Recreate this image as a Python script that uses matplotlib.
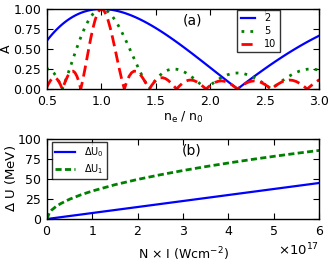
"""Two-panel figure: interference amplitude vs density, and energy shift vs intensity."""

import matplotlib

matplotlib.use("Agg")
import matplotlib.pyplot as plt
from matplotlib.font_manager import FontProperties
from matplotlib.ticker import ScalarFormatter

# ---- panel (a): amplitude A vs n_e / n_0 ----
ne_ratio = [
    0.4900, 0.5041, 0.5184, 0.5329, 0.5476, 0.5625, 0.5776, 0.5929, 0.6084, 0.6241,
    0.6400, 0.6561, 0.6724, 0.6889, 0.7056, 0.7225, 0.7396, 0.7569, 0.7744, 0.7921,
    0.8100, 0.8281, 0.8464, 0.8649, 0.8836, 0.9025, 0.9216, 0.9409, 0.9604, 0.9801,
    1.0000,
    1.0201, 1.0404, 1.0609, 1.0816, 1.1025, 1.1236, 1.1449, 1.1664, 1.1881, 1.2100,
    1.2321, 1.2544, 1.2769, 1.2996, 1.3225, 1.3456, 1.3689, 1.3924, 1.4161, 1.4400,
    1.4641, 1.4884, 1.5129, 1.5376, 1.5625, 1.5876, 1.6129, 1.6384, 1.6641, 1.6900,
    1.7161, 1.7424, 1.7689, 1.7956, 1.8225, 1.8496, 1.8769, 1.9044, 1.9321, 1.9600,
    1.9881, 2.0164, 2.0449, 2.0736, 2.1025, 2.1316, 2.1609, 2.1904, 2.2201, 2.2500,
    2.2801, 2.3104, 2.3409, 2.3716, 2.4025, 2.4336, 2.4649, 2.4964, 2.5281, 2.5600,
    2.5921, 2.6244, 2.6569, 2.6896, 2.7225, 2.7556, 2.7889, 2.8224, 2.8561, 2.8900,
    2.9241, 2.9584, 2.9929, 3.0276,
]

amp_2 = [
    0.5878, 0.6129, 0.6374, 0.6613, 0.6846, 0.7071, 0.7290, 0.7501, 0.7705, 0.7902,
    0.8090, 0.8271, 0.8443, 0.8607, 0.8763, 0.8910, 0.9048, 0.9178, 0.9298, 0.9409,
    0.9511, 0.9603, 0.9686, 0.9759, 0.9823, 0.9877, 0.9921, 0.9956, 0.9980, 0.9995,
    1.0,
    0.9995, 0.9980, 0.9956, 0.9921, 0.9877, 0.9823, 0.9759, 0.9686, 0.9603, 0.9511,
    0.9409, 0.9298, 0.9178, 0.9048, 0.8910, 0.8763, 0.8607, 0.8443, 0.8271, 0.8090,
    0.7902, 0.7705, 0.7501, 0.7290, 0.7071, 0.6846, 0.6613, 0.6374, 0.6129, 0.5878,
    0.5621, 0.5358, 0.5090, 0.4818, 0.4540, 0.4258, 0.3971, 0.3681, 0.3387, 0.3090,
    0.2790, 0.2487, 0.2181, 0.1874, 0.1564, 0.1253, 0.0941, 0.0628, 0.0314, 0.0,
    0.0314, 0.0628, 0.0941, 0.1253, 0.1564, 0.1874, 0.2181, 0.2487, 0.2790, 0.3090,
    0.3387, 0.3681, 0.3971, 0.4258, 0.4540, 0.4818, 0.5090, 0.5358, 0.5621, 0.5878,
    0.6129, 0.6374, 0.6613, 0.6846,
]

amp_5 = [
    0.2472, 0.2500, 0.2469, 0.2376, 0.2220, 0.2000, 0.1717, 0.1373, 0.0970, 0.0510,
    0.0, 0.0557, 0.1153, 0.1784, 0.2440, 0.3115, 0.3800, 0.4487, 0.5167, 0.5832,
    0.6472, 0.7080, 0.7649, 0.8169, 0.8635, 0.9041, 0.9380, 0.9648, 0.9843, 0.9961,
    1.0,
    0.9961, 0.9843, 0.9648, 0.9380, 0.9041, 0.8635, 0.8169, 0.7649, 0.7080, 0.6472,
    0.5832, 0.5167, 0.4487, 0.3800, 0.3115, 0.2440, 0.1784, 0.1153, 0.0557, 0.0,
    0.0510, 0.0970, 0.1373, 0.1717, 0.2000, 0.2220, 0.2376, 0.2469, 0.2500, 0.2472,
    0.2388, 0.2253, 0.2070, 0.1846, 0.1587, 0.1299, 0.0989, 0.0665, 0.0333, 0.0,
    0.0326, 0.0638, 0.0930, 0.1197, 0.1432, 0.1631, 0.1790, 0.1906, 0.1976, 0.2000,
    0.1976, 0.1906, 0.1790, 0.1631, 0.1432, 0.1197, 0.0930, 0.0638, 0.0326, 0.0,
    0.0333, 0.0665, 0.0989, 0.1299, 0.1587, 0.1846, 0.2070, 0.2253, 0.2388, 0.2472,
    0.2500, 0.2469, 0.2376, 0.2220,
]

amp_10 = [
    0.0, 0.0391, 0.0763, 0.1079, 0.1305, 0.1414, 0.1389, 0.1223, 0.0922, 0.0504,
    0.0, 0.0550, 0.1097, 0.1589, 0.1974, 0.2203, 0.2234, 0.2037, 0.1597, 0.0912,
    0.0, 0.1108, 0.2364, 0.3709, 0.5076, 0.6393, 0.7588, 0.8597, 0.9361, 0.9838,
    1.0,
    0.9838, 0.9361, 0.8597, 0.7588, 0.6393, 0.5076, 0.3709, 0.2364, 0.1108, 0.0,
    0.0912, 0.1597, 0.2037, 0.2234, 0.2203, 0.1974, 0.1589, 0.1097, 0.0550, 0.0,
    0.0504, 0.0922, 0.1223, 0.1389, 0.1414, 0.1305, 0.1079, 0.0763, 0.0391, 0.0,
    0.0374, 0.0696, 0.0940, 0.1085, 0.1122, 0.1051, 0.0882, 0.0632, 0.0328, 0.0,
    0.0322, 0.0607, 0.0829, 0.0968, 0.1012, 0.0959, 0.0813, 0.0589, 0.0309, 0.0,
    0.0309, 0.0589, 0.0813, 0.0959, 0.1012, 0.0968, 0.0829, 0.0607, 0.0322, 0.0,
    0.0328, 0.0632, 0.0882, 0.1051, 0.1122, 0.1085, 0.0940, 0.0696, 0.0374, 0.0,
    0.0391, 0.0763, 0.1079, 0.1305,
]

# ---- panel (b): energy shift vs N x I (in units of 1e17 W/cm^2) ----
intensity_e17 = [0, 0.05, 0.1, 0.2, 0.3, 0.5, 0.75, 1.0, 1.5, 2.0, 2.5, 3.0, 3.5,
                 4.0, 4.5, 5.0, 5.5, 6.0]
du0 = [0, 0.38, 0.75, 1.5, 2.25, 3.75, 5.6, 7.5, 11.25, 15.0, 18.75, 22.5, 26.25,
       30.0, 33.75, 37.5, 41.25, 45.0]
du1 = [0, 7.8, 11.1, 15.7, 19.2, 24.8, 30.3, 35.0, 42.9, 49.5, 55.3, 60.6, 65.5,
       70.0, 74.3, 78.3, 82.1, 85.7]

plt.rcParams["font.family"] = ["DejaVu Sans"]
plt.rcParams["mathtext.default"] = "regular"

fig = plt.figure(figsize=(3.29, 2.71), dpi=100)
ax1 = fig.add_axes([0.143, 0.6716, 0.827, 0.2952])
ax2 = fig.add_axes([0.143, 0.1919, 0.827, 0.2952])

ax1.plot(ne_ratio, amp_2, color="b", lw=1.6, label="2")
ax1.plot(ne_ratio, amp_5, color="g", lw=2.0, dashes=(1, 2.2), label="5")
ax1.plot(ne_ratio, amp_10, color="r", lw=2.0, dashes=(4, 2), label="10")
ax1.set_xlim(0.5, 3.0)
ax1.set_ylim(0, 1.0)
ax1.set_xticks([0.5, 1.0, 1.5, 2.0, 2.5, 3.0])
ax1.set_yticks([0, 0.25, 0.5, 0.75, 1.0])
ax1.set_yticklabels(["0.00", "0.25", "0.50", "0.75", "1.00"])
ax1.set_xlabel("n$_e$ / n$_0$", fontsize=9, labelpad=2)
ax1.set_ylabel("A", fontsize=9)
ax1.yaxis.set_label_coords(-0.126, 0.5)
ax1.text(0.533, 0.85, "(a)", transform=ax1.transAxes, ha="center", va="center",
         fontsize=10)
leg1 = ax1.legend(loc="upper left", bbox_to_anchor=(0.699, 0.99), borderaxespad=0,
                  fontsize=7, fancybox=False, handlelength=1.5, labelspacing=0.3,
                  borderpad=0.35, handletextpad=0.9)
leg1.get_frame().set_edgecolor("k")
leg1.get_frame().set_linewidth(1.0)

intensity = [v * 1e17 for v in intensity_e17]
ax2.plot(intensity, du0, color="b", lw=1.6, label=r"$\Delta U_0$")
ax2.plot(intensity, du1, color="g", lw=2.0, dashes=(2.2, 1.2), label=r"$\Delta U_1$")
ax2.set_xlim(0, 6e17)
ax2.set_ylim(0, 100)
ax2.set_yticks([0, 25, 50, 75, 100])
fmt = ScalarFormatter(useMathText=True)
ax2.xaxis.set_major_formatter(fmt)
ax2.set_xlabel(r"N $\times$ I (Wcm$^{-2}$)", fontsize=9, labelpad=6)
ax2.set_ylabel(r"$\Delta$ U (MeV)", fontsize=9.5)
ax2.yaxis.set_label_coords(-0.105, 0.5)
ax2.text(0.533, 0.85, "(b)", transform=ax2.transAxes, ha="center", va="center",
         fontsize=10)
leg2 = ax2.legend(loc="upper left", bbox_to_anchor=(0.018, 0.9625), borderaxespad=0,
                  prop=FontProperties(size=7, math_fontfamily="cm"), fancybox=False,
                  handlelength=2.0, labelspacing=0.3, borderpad=0.35,
                  handletextpad=0.9)
leg2.get_frame().set_edgecolor("k")
leg2.get_frame().set_linewidth(1.0)

for ax in (ax1, ax2):
    ax.tick_params(direction="in", top=True, right=True, length=4, width=0.8,
                   labelsize=9, pad=4)
    for sp in ax.spines.values():
        sp.set_linewidth(1.0)
ax2.xaxis.get_offset_text().set_fontsize(9.5)

fig.savefig("out.png", dpi=100)
plt.close(fig)
